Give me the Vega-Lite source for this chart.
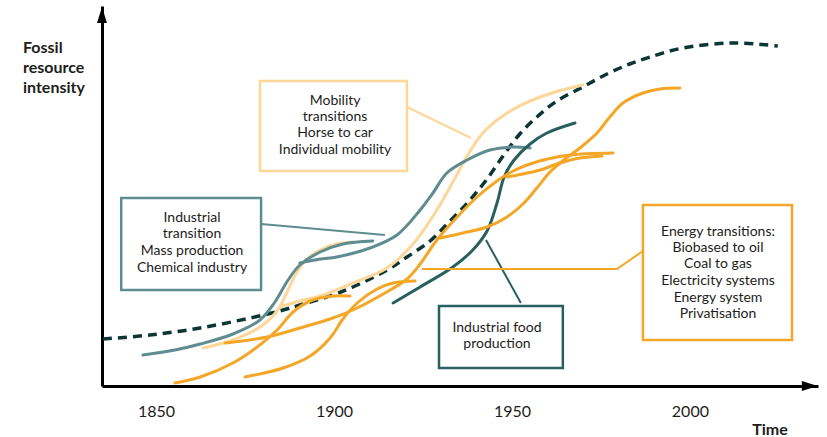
{
  "$schema": "https://vega.github.io/schema/vega-lite/v6.json",
  "width": 716,
  "height": 380,
  "autosize": {"type": "none"},
  "padding": {"left": 102, "top": 6, "right": 9, "bottom": 51},
  "background": "white",
  "config": {"view": {"stroke": null}, "font": "Lato", "text": {"font": "Lato"}},
  "datasets": {
    "curves": [
      {"s": "LO1", "c": "lo", "yr": 1863.2, "v": 38}, {"s": "LO1", "c": "lo", "yr": 1871.6, "v": 46}, {"s": "LO1", "c": "lo", "yr": 1879.2, "v": 59}, {"s": "LO1", "c": "lo", "yr": 1884.0, "v": 75}, {"s": "LO1", "c": "lo", "yr": 1886.8, "v": 94}, {"s": "LO1", "c": "lo", "yr": 1889.6, "v": 114}, {"s": "LO1", "c": "lo", "yr": 1892.4, "v": 127}, {"s": "LO1", "c": "lo", "yr": 1896.1, "v": 136}, {"s": "LO1", "c": "lo", "yr": 1900.8, "v": 142}, {"s": "LO1", "c": "lo", "yr": 1905.3, "v": 144},
      {"s": "LO2", "c": "lo", "yr": 1884.8, "v": 79}, {"s": "LO2", "c": "lo", "yr": 1890.4, "v": 85}, {"s": "LO2", "c": "lo", "yr": 1896.1, "v": 90}, {"s": "LO2", "c": "lo", "yr": 1905.3, "v": 103}, {"s": "LO2", "c": "lo", "yr": 1914.9, "v": 118}, {"s": "LO2", "c": "lo", "yr": 1922.2, "v": 142}, {"s": "LO2", "c": "lo", "yr": 1928.9, "v": 176}, {"s": "LO2", "c": "lo", "yr": 1933.4, "v": 204}, {"s": "LO2", "c": "lo", "yr": 1937.4, "v": 230}, {"s": "LO2", "c": "lo", "yr": 1941.6, "v": 252}, {"s": "LO2", "c": "lo", "yr": 1945.8, "v": 266}, {"s": "LO2", "c": "lo", "yr": 1950.0, "v": 276}, {"s": "LO2", "c": "lo", "yr": 1955.1, "v": 285}, {"s": "LO2", "c": "lo", "yr": 1962.1, "v": 294}, {"s": "LO2", "c": "lo", "yr": 1969.9, "v": 301},
      {"s": "GT1", "c": "gt", "yr": 1846.3, "v": 31}, {"s": "GT1", "c": "gt", "yr": 1855.3, "v": 36}, {"s": "GT1", "c": "gt", "yr": 1862.4, "v": 42}, {"s": "GT1", "c": "gt", "yr": 1871.6, "v": 52}, {"s": "GT1", "c": "gt", "yr": 1879.2, "v": 66}, {"s": "GT1", "c": "gt", "yr": 1883.4, "v": 84}, {"s": "GT1", "c": "gt", "yr": 1887.1, "v": 106}, {"s": "GT1", "c": "gt", "yr": 1890.4, "v": 121}, {"s": "GT1", "c": "gt", "yr": 1896.1, "v": 134}, {"s": "GT1", "c": "gt", "yr": 1902.5, "v": 142}, {"s": "GT1", "c": "gt", "yr": 1910.9, "v": 145},
      {"s": "GT2", "c": "gt", "yr": 1890.4, "v": 123}, {"s": "GT2", "c": "gt", "yr": 1896.1, "v": 127}, {"s": "GT2", "c": "gt", "yr": 1900.8, "v": 129}, {"s": "GT2", "c": "gt", "yr": 1910.1, "v": 138}, {"s": "GT2", "c": "gt", "yr": 1917.7, "v": 151}, {"s": "GT2", "c": "gt", "yr": 1924.2, "v": 176}, {"s": "GT2", "c": "gt", "yr": 1927.8, "v": 193}, {"s": "GT2", "c": "gt", "yr": 1931.7, "v": 213}, {"s": "GT2", "c": "gt", "yr": 1937.4, "v": 226}, {"s": "GT2", "c": "gt", "yr": 1943.8, "v": 236}, {"s": "GT2", "c": "gt", "yr": 1950.3, "v": 239}, {"s": "GT2", "c": "gt", "yr": 1955.1, "v": 238},
      {"s": "DT", "c": "dt", "yr": 1916.6, "v": 83}, {"s": "DT", "c": "dt", "yr": 1924.2, "v": 99}, {"s": "DT", "c": "dt", "yr": 1933.4, "v": 119}, {"s": "DT", "c": "dt", "yr": 1939.0, "v": 136}, {"s": "DT", "c": "dt", "yr": 1943.0, "v": 155}, {"s": "DT", "c": "dt", "yr": 1945.8, "v": 183}, {"s": "DT", "c": "dt", "yr": 1947.8, "v": 209}, {"s": "DT", "c": "dt", "yr": 1950.6, "v": 226}, {"s": "DT", "c": "dt", "yr": 1955.1, "v": 242}, {"s": "DT", "c": "dt", "yr": 1959.8, "v": 253}, {"s": "DT", "c": "dt", "yr": 1967.7, "v": 263},
      {"s": "OA", "c": "or", "yr": 1855.3, "v": 3}, {"s": "OA", "c": "or", "yr": 1862.4, "v": 9}, {"s": "OA", "c": "or", "yr": 1871.6, "v": 23}, {"s": "OA", "c": "or", "yr": 1878.4, "v": 39}, {"s": "OA", "c": "or", "yr": 1884.0, "v": 56}, {"s": "OA", "c": "or", "yr": 1888.5, "v": 74}, {"s": "OA", "c": "or", "yr": 1893.3, "v": 85}, {"s": "OA", "c": "or", "yr": 1899.7, "v": 90}, {"s": "OA", "c": "or", "yr": 1904.5, "v": 90},
      {"s": "OB", "c": "or", "yr": 1875.0, "v": 9}, {"s": "OB", "c": "or", "yr": 1885.7, "v": 18}, {"s": "OB", "c": "or", "yr": 1893.3, "v": 30}, {"s": "OB", "c": "or", "yr": 1898.9, "v": 48}, {"s": "OB", "c": "or", "yr": 1902.5, "v": 67}, {"s": "OB", "c": "or", "yr": 1906.5, "v": 83}, {"s": "OB", "c": "or", "yr": 1912.1, "v": 97}, {"s": "OB", "c": "or", "yr": 1916.6, "v": 103}, {"s": "OB", "c": "or", "yr": 1922.8, "v": 105},
      {"s": "OC", "c": "or", "yr": 1869.4, "v": 43}, {"s": "OC", "c": "or", "yr": 1881.2, "v": 49}, {"s": "OC", "c": "or", "yr": 1890.4, "v": 58}, {"s": "OC", "c": "or", "yr": 1899.7, "v": 68}, {"s": "OC", "c": "or", "yr": 1906.5, "v": 78}, {"s": "OC", "c": "or", "yr": 1913.8, "v": 92}, {"s": "OC", "c": "or", "yr": 1920.5, "v": 107}, {"s": "OC", "c": "or", "yr": 1924.2, "v": 122}, {"s": "OC", "c": "or", "yr": 1928.9, "v": 146}, {"s": "OC", "c": "or", "yr": 1934.6, "v": 169}, {"s": "OC", "c": "or", "yr": 1940.2, "v": 189}, {"s": "OC", "c": "or", "yr": 1945.8, "v": 205}, {"s": "OC", "c": "or", "yr": 1950.3, "v": 215}, {"s": "OC", "c": "or", "yr": 1955.1, "v": 222}, {"s": "OC", "c": "or", "yr": 1960.0, "v": 227}, {"s": "OC", "c": "or", "yr": 1966.3, "v": 231}, {"s": "OC", "c": "or", "yr": 1978.4, "v": 233},
      {"s": "OD", "c": "or", "yr": 1948.6, "v": 209}, {"s": "OD", "c": "or", "yr": 1953.1, "v": 212}, {"s": "OD", "c": "or", "yr": 1957.9, "v": 216}, {"s": "OD", "c": "or", "yr": 1963.5, "v": 223}, {"s": "OD", "c": "or", "yr": 1969.1, "v": 228}, {"s": "OD", "c": "or", "yr": 1975.3, "v": 230},
      {"s": "OE", "c": "or", "yr": 1929.8, "v": 148}, {"s": "OE", "c": "or", "yr": 1936.2, "v": 153}, {"s": "OE", "c": "or", "yr": 1943.0, "v": 159}, {"s": "OE", "c": "or", "yr": 1948.6, "v": 169}, {"s": "OE", "c": "or", "yr": 1953.1, "v": 182}, {"s": "OE", "c": "or", "yr": 1957.0, "v": 198}, {"s": "OE", "c": "or", "yr": 1960.7, "v": 214}, {"s": "OE", "c": "or", "yr": 1964.9, "v": 227}, {"s": "OE", "c": "or", "yr": 1969.1, "v": 238}, {"s": "OE", "c": "or", "yr": 1973.9, "v": 253}, {"s": "OE", "c": "or", "yr": 1977.5, "v": 269}, {"s": "OE", "c": "or", "yr": 1981.2, "v": 283}, {"s": "OE", "c": "or", "yr": 1986.8, "v": 293}, {"s": "OE", "c": "or", "yr": 1991.6, "v": 297}, {"s": "OE", "c": "or", "yr": 1997.2, "v": 298}
    ],
    "dash": [
      {"yr": 1835.1, "v": 47}, {"yr": 1848.3, "v": 51}, {"yr": 1862.4, "v": 58}, {"yr": 1876.4, "v": 68}, {"yr": 1884.8, "v": 75}, {"yr": 1890.4, "v": 81}, {"yr": 1899.7, "v": 91}, {"yr": 1905.3, "v": 99}, {"yr": 1914.9, "v": 116}, {"yr": 1920.5, "v": 129}, {"yr": 1927.0, "v": 145}, {"yr": 1932.6, "v": 165}, {"yr": 1938.2, "v": 186}, {"yr": 1943.0, "v": 207}, {"yr": 1947.5, "v": 230}, {"yr": 1952.2, "v": 252}, {"yr": 1957.0, "v": 269}, {"yr": 1962.6, "v": 285}, {"yr": 1969.9, "v": 299}, {"yr": 1976.7, "v": 312}, {"yr": 1983.1, "v": 322}, {"yr": 1988.8, "v": 329}, {"yr": 1998.0, "v": 338}, {"yr": 2012.1, "v": 343}, {"yr": 2024.7, "v": 340}
    ],
    "conn": [
      {"s": "mob", "c": "lo", "yr": 1920.5, "v": 279}, {"s": "mob", "c": "lo", "yr": 1938.5, "v": 248},
      {"s": "ind", "c": "gt", "yr": 1879.5, "v": 162}, {"s": "ind", "c": "gt", "yr": 1914.3, "v": 151},
      {"s": "food", "c": "dt", "yr": 1942.7, "v": 146}, {"s": "food", "c": "dt", "yr": 1952.5, "v": 83},
      {"s": "en", "c": "or", "yr": 1924.7, "v": 117}, {"s": "en", "c": "or", "yr": 1979.5, "v": 117}, {"s": "en", "c": "or", "yr": 1986.8, "v": 135}
    ],
    "boxes": [
      {"c": "lo", "yr": 1879.2, "yr2": 1920.5, "v": 305, "v2": 215},
      {"c": "gt", "yr": 1840.2, "yr2": 1879.5, "v": 188, "v2": 96},
      {"c": "dt", "yr": 1929.5, "yr2": 1964.3, "v": 80, "v2": 18},
      {"c": "or", "yr": 1986.8, "yr2": 2028.7, "v": 181, "v2": 46}
    ],
    "boxtext": [
      {"t": "Mobility", "yr": 1900.3, "v": 285}, {"t": "transitions", "yr": 1900.3, "v": 269}, {"t": "Horse to car", "yr": 1900.3, "v": 253}, {"t": "Individual mobility", "yr": 1900.3, "v": 236},
      {"t": "Industrial", "yr": 1860.1, "v": 168}, {"t": "transition", "yr": 1860.1, "v": 152}, {"t": "Mass production", "yr": 1860.1, "v": 135}, {"t": "Chemical industry", "yr": 1860.1, "v": 118},
      {"t": "Industrial food", "yr": 1945.8, "v": 58}, {"t": "production", "yr": 1945.8, "v": 42},
      {"t": "Energy transitions:", "yr": 2007.9, "v": 154}, {"t": "Biobased to oil", "yr": 2007.9, "v": 138}, {"t": "Coal to gas", "yr": 2007.9, "v": 122}, {"t": "Electricity systems", "yr": 2007.9, "v": 105}, {"t": "Energy system", "yr": 2007.9, "v": 88}, {"t": "Privatisation", "yr": 2007.9, "v": 72}
    ],
    "ytitle": [
      {"t": "Fossil", "yr": 1812.6, "v": 338}, {"t": "resource", "yr": 1812.6, "v": 318}, {"t": "intensity", "yr": 1812.6, "v": 298}
    ],
    "xtitle": [
      {"t": "Time", "yr": 2022.5, "v": -44}
    ],
    "arrows": [
      {"a": "x", "yr": 2033.7, "v": 0},
      {"a": "y", "yr": 1834.8, "v": 371}
    ]
  },
  "encoding": {
    "x": {
      "field": "yr", "type": "quantitative",
      "scale": {"domain": [1834.8, 2036], "nice": false, "zero": false},
      "axis": {"values": [1850, 1900, 1950, 2000], "format": "d", "title": null, "ticks": false, "grid": false, "domainColor": "#000000", "domainWidth": 3, "labelFontSize": 16, "labelFont": "Lato", "labelColor": "#1d1d1b", "labelPadding": 17}
    },
    "y": {
      "field": "v", "type": "quantitative",
      "scale": {"domain": [0, 380], "nice": false, "zero": false},
      "axis": {"title": null, "labels": false, "ticks": false, "grid": false, "domainColor": "#000000", "domainWidth": 3}
    }
  },
  "layer": [
    {
      "data": {"name": "dash"},
      "mark": {"type": "line", "interpolate": "catmull-rom", "color": "#0b3634", "strokeWidth": 3.5, "strokeDash": [9, 6]},
      "encoding": {}
    },
    {
      "data": {"name": "curves"},
      "mark": {"type": "line", "interpolate": "catmull-rom", "strokeWidth": 3, "strokeCap": "round"},
      "encoding": {
        "color": {"field": "c", "type": "nominal", "scale": {"domain": ["lo", "gt", "dt", "or"], "range": ["#fdd699", "#5f8c8f", "#27605f", "#f4a626"]}, "legend": null},
        "detail": {"field": "s", "type": "nominal"}
      }
    },
    {
      "data": {"name": "conn"},
      "mark": {"type": "line", "strokeWidth": 2},
      "encoding": {
        "color": {"field": "c", "type": "nominal", "scale": {"domain": ["lo", "gt", "dt", "or"], "range": ["#fdd699", "#5f8c8f", "#27605f", "#f4a626"]}, "legend": null},
        "detail": {"field": "s", "type": "nominal"}
      }
    },
    {
      "data": {"name": "boxes"},
      "mark": {"type": "rect", "fill": "white", "strokeWidth": 2.5},
      "encoding": {
        "x2": {"field": "yr2"},
        "y2": {"field": "v2"},
        "stroke": {"field": "c", "type": "nominal", "scale": {"domain": ["lo", "gt", "dt", "or"], "range": ["#fdd699", "#5f8c8f", "#27605f", "#f4a626"]}, "legend": null}
      }
    },
    {
      "data": {"name": "boxtext"},
      "mark": {"type": "text", "fontSize": 14, "font": "Lato", "color": "#1d1d1b", "align": "center", "baseline": "middle"},
      "encoding": {"text": {"field": "t"}}
    },
    {
      "data": {"name": "ytitle"},
      "mark": {"type": "text", "fontSize": 16, "font": "Lato", "fontWeight": "bold", "color": "#1d1d1b", "align": "left", "baseline": "middle"},
      "encoding": {"text": {"field": "t"}}
    },
    {
      "data": {"name": "xtitle"},
      "mark": {"type": "text", "fontSize": 16, "font": "Lato", "fontWeight": "bold", "color": "#1d1d1b", "align": "center", "baseline": "middle"},
      "encoding": {"text": {"field": "t"}}
    },
    {
      "data": {"name": "arrows"},
      "transform": [{"filter": "datum.a === 'x'"}],
      "mark": {"type": "point", "filled": true, "color": "#000000", "opacity": 1, "size": 256, "shape": "M1,0L-1,-0.62L-1,0.62Z"},
      "encoding": {}
    },
    {
      "data": {"name": "arrows"},
      "transform": [{"filter": "datum.a === 'y'"}],
      "mark": {"type": "point", "filled": true, "color": "#000000", "opacity": 1, "size": 256, "shape": "M0,-1L0.62,1L-0.62,1Z"},
      "encoding": {}
    }
  ]
}
